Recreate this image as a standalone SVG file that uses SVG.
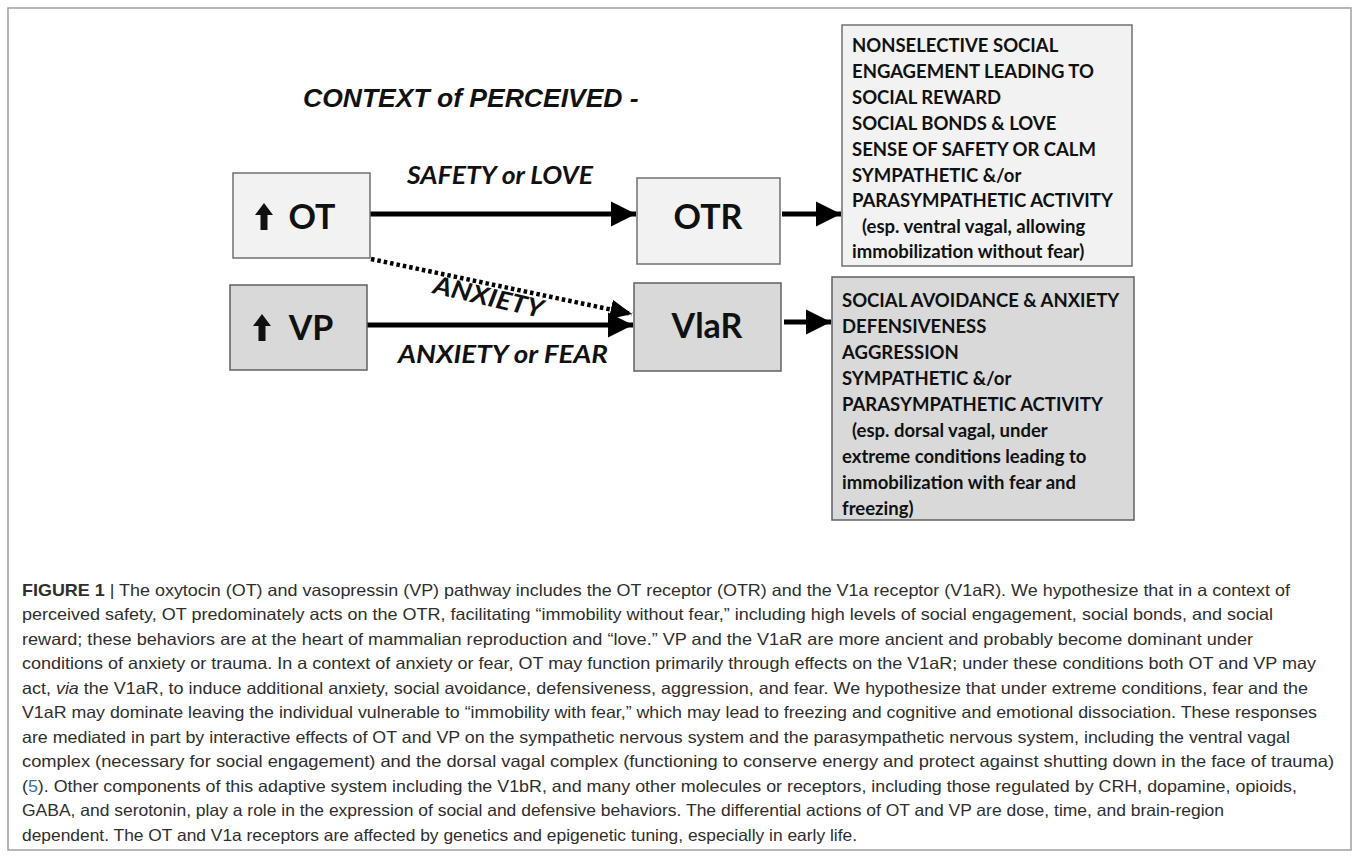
<svg xmlns="http://www.w3.org/2000/svg" width="1354" height="856" viewBox="0 0 1354 856">
<defs>
<style>
.frame{fill:#fff;stroke:#a0a0a0;stroke-width:1.5}
.light{fill:#f2f2f2;stroke:#707070;stroke-width:1.5}
.dark{fill:#d9d9d9;stroke:#606060;stroke-width:1.5}
.lbl{font-family:Lato,"Open Sans","Liberation Sans",sans-serif;font-weight:bold;fill:#111}
.node{font-size:34px;text-anchor:middle}
.list{font-size:18.5px}
.edge{font-family:Lato,"Liberation Sans",sans-serif;font-weight:bold;font-style:italic;font-size:25px;fill:#111}
.title{font-family:"Liberation Sans",Arial,sans-serif;font-weight:bold;font-style:italic;font-size:26.5px;fill:#111}
.cap{font-family:"Liberation Sans",Arial,sans-serif;font-size:16.5px;fill:#2e2e2e}
.solid{stroke:#000;stroke-width:5;fill:none}
.dot{stroke:#000;stroke-width:4.5;fill:none;stroke-dasharray:3.5 3}
</style>
<marker id="ah" markerWidth="6" markerHeight="6" refX="5" refY="3" orient="auto" markerUnits="strokeWidth">
<path d="M0,0.5 L5,3 L0,5.5 Z" fill="#000"/>
</marker>
<marker id="ah2" markerWidth="6" markerHeight="6" refX="4.8" refY="3" orient="auto" markerUnits="strokeWidth">
<path d="M0,0.8 L4.8,3 L0,5.2 Z" fill="#000"/>
</marker>
<path id="up" d="M0,-14 L9,-2 L3.5,-2 L3.5,13 L-3.5,13 L-3.5,-2 L-9,-2 Z" fill="#111"/>
</defs>

<rect class="frame" x="8" y="8" width="1343" height="842"/>

<text class="title" x="303" y="107">CONTEXT of PERCEIVED -</text>

<g id="connectors">
<line class="solid" x1="370" y1="214" x2="636" y2="214" marker-end="url(#ah)"/>
<line class="dot" x1="371" y1="259" x2="632" y2="314" marker-end="url(#ah2)"/>
<line class="solid" x1="367" y1="325" x2="633" y2="325" marker-end="url(#ah)"/>
<line class="solid" x1="782" y1="214" x2="841" y2="214" marker-end="url(#ah)"/>
<line class="solid" x1="784" y1="322" x2="831" y2="322" marker-end="url(#ah)"/>
<text class="edge" x="407" y="184" textLength="186" lengthAdjust="spacingAndGlyphs">SAFETY or LOVE</text>
<text class="edge" x="398" y="363" textLength="210" lengthAdjust="spacingAndGlyphs">ANXIETY or FEAR</text>
<text class="edge" transform="translate(432,293) rotate(13)" textLength="112" lengthAdjust="spacingAndGlyphs">ANXIETY</text>
</g>

<g id="node-ot">
<rect class="light" x="233" y="173" width="137" height="85"/>
<use href="#up" x="264" y="217"/>
<text class="lbl node" x="312" y="229">OT</text>
</g>

<g id="node-vp">
<rect class="dark" x="230" y="285" width="137" height="85"/>
<use href="#up" x="262" y="328"/>
<text class="lbl node" x="311" y="340">VP</text>
</g>

<g id="node-otr">
<rect class="light" x="637" y="178" width="143" height="86"/>
<text class="lbl node" x="708" y="229">OTR</text>
</g>

<g id="node-v1ar">
<rect class="dark" x="634" y="283" width="147" height="88"/>
<text class="lbl node" x="707" y="338">VlaR</text>
</g>

<g id="node-safe-outcomes">
<rect class="light" x="842" y="25" width="290" height="241"/>
<text class="lbl list" x="852" y="52">NONSELECTIVE SOCIAL</text>
<text class="lbl list" x="852" y="78">ENGAGEMENT LEADING TO</text>
<text class="lbl list" x="852" y="104">SOCIAL REWARD</text>
<text class="lbl list" x="852" y="130">SOCIAL BONDS &amp; LOVE</text>
<text class="lbl list" x="852" y="156">SENSE OF SAFETY OR CALM</text>
<text class="lbl list" x="852" y="182">SYMPATHETIC &amp;/or</text>
<text class="lbl list" x="852" y="207">PARASYMPATHETIC ACTIVITY</text>
<text class="lbl list" x="862" y="233">(esp. ventral vagal, allowing</text>
<text class="lbl list" x="852" y="258">immobilization without fear)</text>
</g>

<g id="node-fear-outcomes">
<rect class="dark" x="832" y="277" width="302" height="243"/>
<text class="lbl list" x="842" y="307">SOCIAL AVOIDANCE &amp; ANXIETY</text>
<text class="lbl list" x="842" y="333">DEFENSIVENESS</text>
<text class="lbl list" x="842" y="359">AGGRESSION</text>
<text class="lbl list" x="842" y="385">SYMPATHETIC &amp;/or</text>
<text class="lbl list" x="842" y="411">PARASYMPATHETIC ACTIVITY</text>
<text class="lbl list" x="852" y="437">(esp. dorsal vagal, under</text>
<text class="lbl list" x="842" y="463">extreme conditions leading to</text>
<text class="lbl list" x="842" y="489">immobilization with fear and</text>
<text class="lbl list" x="842" y="515">freezing)</text>
</g>

<g id="caption" class="cap">
<text x="22" y="596" textLength="1268" lengthAdjust="spacingAndGlyphs"><tspan font-weight="bold">FIGURE 1</tspan> | The oxytocin (OT) and vasopressin (VP) pathway includes the OT receptor (OTR) and the V1a receptor (V1aR). We hypothesize that in a context of</text>
<text x="22" y="620" textLength="1251" lengthAdjust="spacingAndGlyphs">perceived safety, OT predominately acts on the OTR, facilitating “immobility without fear,” including high levels of social engagement, social bonds, and social</text>
<text x="22" y="645" textLength="1231" lengthAdjust="spacingAndGlyphs">reward; these behaviors are at the heart of mammalian reproduction and “love.” VP and the V1aR are more ancient and probably become dominant under</text>
<text x="22" y="669" textLength="1294" lengthAdjust="spacingAndGlyphs">conditions of anxiety or trauma. In a context of anxiety or fear, OT may function primarily through effects on the V1aR; under these conditions both OT and VP may</text>
<text x="22" y="694" textLength="1286" lengthAdjust="spacingAndGlyphs">act, <tspan font-style="italic">via</tspan> the V1aR, to induce additional anxiety, social avoidance, defensiveness, aggression, and fear. We hypothesize that under extreme conditions, fear and the</text>
<text x="22" y="718" textLength="1295" lengthAdjust="spacingAndGlyphs">V1aR may dominate leaving the individual vulnerable to “immobility with fear,” which may lead to freezing and cognitive and emotional dissociation. These responses</text>
<text x="22" y="743" textLength="1268" lengthAdjust="spacingAndGlyphs">are mediated in part by interactive effects of OT and VP on the sympathetic nervous system and the parasympathetic nervous system, including the ventral vagal</text>
<text x="22" y="767" textLength="1312" lengthAdjust="spacingAndGlyphs">complex (necessary for social engagement) and the dorsal vagal complex (functioning to conserve energy and protect against shutting down in the face of trauma)</text>
<text x="22" y="792" textLength="1275" lengthAdjust="spacingAndGlyphs">(<tspan fill="#3a6db0">5</tspan>). Other components of this adaptive system including the V1bR, and many other molecules or receptors, including those regulated by CRH, dopamine, opioids,</text>
<text x="22" y="816" textLength="1202" lengthAdjust="spacingAndGlyphs">GABA, and serotonin, play a role in the expression of social and defensive behaviors. The differential actions of OT and VP are dose, time, and brain-region</text>
<text x="22" y="841" textLength="835" lengthAdjust="spacingAndGlyphs">dependent. The OT and V1a receptors are affected by genetics and epigenetic tuning, especially in early life.</text>
</g>
</svg>
